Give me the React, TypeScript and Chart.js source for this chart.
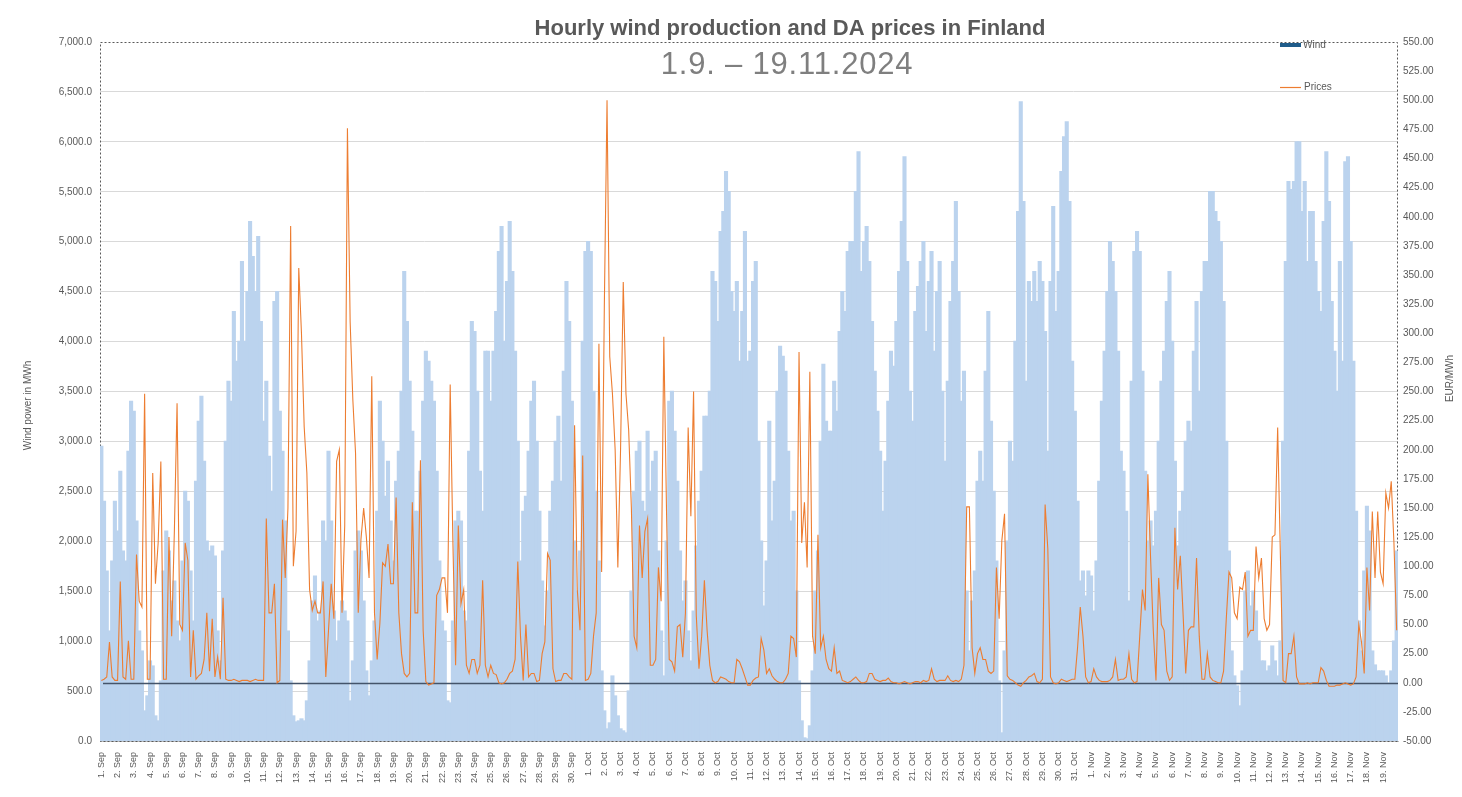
import React, { useEffect, useRef } from 'react';
import { Chart, registerables } from 'chart.js';

Chart.register(...registerables);

// ---------- categories ----------
const months = [
  { name: 'Sep', days: 30 },
  { name: 'Oct', days: 31 },
  { name: 'Nov', days: 19 },
];
const binsPerDay = 6; // 4-hour readings per day
const dayLabels: string[] = months.flatMap((m) =>
  Array.from({ length: m.days }, (_, i) => `${i + 1}. ${m.name}`)
);

// ---------- wind production, MWh (4-hour readings) ----------
const windSep = [
  2950, 2400, 1700, 1100, 1800, 2400,
  2100, 2700, 1900, 1800, 2900, 3400,
  3300, 2200, 1100, 900, 300, 450,
  800, 750, 250, 200, 600, 1700,
  2100, 1900, 1400, 1600, 1200, 1000,
  1800, 2500, 2400, 1700, 1200, 2600,
  3200, 3450, 2800, 2000, 1900, 1950,
  1850, 1100, 800, 1900, 3000, 3600,
  3400, 4300, 3800, 4000, 4800, 4000,
  4500, 5200, 4850, 4500, 5050, 4200,
  3200, 3600, 2850, 2500, 4400, 4500,
  3300, 2900, 2200, 1100, 600, 250,
  190, 200, 220, 200, 400, 800,
  1400, 1650, 1200, 1300, 2200, 2000,
  2900, 2200, 1300, 1000, 1200, 1400,
  1300, 1200, 400, 800, 1900, 2100,
  1900, 1400, 700, 450, 800, 1200,
  2300, 3400, 3000, 2450, 2800, 2200,
  1800, 2600, 2900, 3500, 4700, 4200,
  3600, 3100, 2300, 2300, 2700, 3400,
  3900, 3800, 3600, 3400, 2700, 1800,
  1200, 1100, 400, 380, 1200, 2200,
  2300, 2200, 1300, 1200, 2900, 4200,
  4100, 3500, 2700, 2300, 3900, 3900,
  3400, 3900, 4300, 4900, 5150, 4000,
  4600, 5200, 4700, 3900, 3000, 1800,
  2300, 2450, 2900, 3400, 3600, 3000,
  2300, 1600, 1150, 1500, 2300, 2600,
  3000, 3250, 2600, 3700, 4600, 4200,
  3400, 2000, 1500, 1900, 4000, 4900,
];
const windOct = [
  5000, 4900, 3500, 2500, 1800, 700,
  300, 120, 180, 650, 450, 250,
  120, 100, 80, 500, 1500, 2500,
  2900, 3000, 2400, 2300, 3100, 2500,
  2800, 2900, 1900, 1100, 650, 2000,
  3400, 3500, 3100, 2600, 1900, 1400,
  1600, 1100, 800, 1300, 1950, 2400,
  2700, 3250, 3250, 3500, 4700, 4600,
  4200, 5100, 5300, 5700, 5500, 4500,
  4300, 4600, 3800, 4300, 5100, 3800,
  3900, 4600, 4800, 3000, 2000, 1350,
  1800, 3200, 2200, 2600, 3500, 3950,
  3850, 3700, 2900, 2200, 2300, 1500,
  600, 200, 30, 20, 150, 700,
  1500, 1900, 3000, 3770, 3200, 3100,
  3100, 3600, 3300, 4100, 4500, 4300,
  4900, 5000, 5000, 5500, 5900, 4700,
  5000, 5150, 4800, 4200, 3700, 3300,
  2900, 2300, 2800, 3400, 3900, 3750,
  4200, 4700, 5200, 5850, 4800, 3500,
  3200, 4300, 4550, 4800, 5000, 4100,
  4600, 4900, 3900, 4500, 4800, 3500,
  2800, 3600, 4400, 4800, 5400, 4500,
  3400, 3700, 1500, 900, 1400, 1700,
  2600, 2900, 2600, 3700, 4300, 3200,
  2500, 1800, 600, 80, 900, 2000,
  3000, 2800, 4000, 5300, 6400, 5400,
  3600, 4600, 4400, 4700, 4400, 4800,
  4600, 4100, 2900, 4600, 5350, 4300,
  4700, 5700, 6050, 6200, 5400, 3800,
  3300, 2400, 1600, 1700, 1450, 1700,
];
const windNov = [
  1650, 1300, 1800, 2600, 3400, 3900,
  4500, 5000, 4800, 4500, 3900, 2900,
  2700, 2300, 1400, 3600, 4900, 5100,
  4900, 3700, 2700, 2000, 2200, 1950,
  2300, 3000, 3600, 3900, 4400, 4700,
  4000, 2800, 1950, 2300, 2500, 3000,
  3200, 3100, 3900, 4400, 3500, 4500,
  4800, 4800, 5500, 5500, 5300, 5200,
  5000, 4400, 3000, 1900, 900, 650,
  550, 350, 700, 1500, 1700, 1350,
  1500, 1300, 1000, 800, 800, 700,
  750, 950, 800, 650, 1000, 3000,
  4800, 5600, 5520, 5600, 6000, 6000,
  5300, 5600, 4800, 5300, 5300, 4800,
  4500, 4300, 5200, 5900, 5400, 4400,
  3900, 3500, 4800, 3800, 5800, 5850,
  5000, 3800, 2300, 1200, 900, 1700,
  2350, 2100, 900, 760, 700, 700,
  700, 650, 580, 700, 1000, 1900,
];

// ---------- day-ahead prices, EUR/MWh (4-hour readings) ----------
const priceSep = [
  2, 3, 5, 35, 5, 2,
  2, 87, 5, 3, 36, 3,
  3, 110, 70, 65, 248, 3,
  3, 180, 85, 120, 190, 3,
  3, 125, 40, 130, 240, 50,
  45, 120, 105, 5, 45, 3,
  6, 8, 20, 60, 10, 55,
  5, 22, 3, 73, 3, 2,
  2, 3, 2, 1, 2, 2,
  2, 1, 2, 3, 2, 2,
  2, 141, 60, 60, 85, 0,
  2, 140, 90, 150, 392, 100,
  130, 356, 300, 220, 180, 80,
  62, 70, 60, 60, 87, 5,
  45, 85, 55, 190, 200, 60,
  135, 476, 310, 243, 197, 60,
  123, 150, 125, 90, 263, 60,
  20, 51, 103, 100, 119, 85,
  85, 159, 60, 25, 8, 5,
  8, 155, 60, 60, 191, 45,
  1, -2, -1, 0, 75, 80,
  90, 90, 60, 256, 120, 15,
  135, 68, 80, 15, 8, 20,
  20, 8, 15, 88, 15, 5,
  15, 8, 7, 0, -1, 0,
  3, 8, 10, 20, 104, 40,
  2, 50, 5, 8, 8, 1,
  2, 25, 35, 111, 105, 12,
  1, 2, 2, 8, 8, 5,
  3, 221, 80, 45, 195, 2,
];
const priceOct = [
  3, 8, 40, 60, 291, 95,
  323, 500, 280, 248, 200, 99,
  200, 344, 248, 217, 150, 40,
  30, 135, 90, 130, 141, 15,
  15, 20, 99, 70, 297, 147,
  20, 18, 10, 48, 50, 22,
  60, 219, 143, 250, 58, 12,
  40, 88, 45, 15, 2, 0,
  1, 5, 4, 3, 1, 0,
  0, 20, 18, 12, 5, -2,
  -2, 2, 4, 5, 38, 28,
  8, 12, 6, 3, 1, 0,
  0, 3, 8, 40, 38, 22,
  284, 120, 155, 99, 267, 40,
  25, 127, 30, 40, 20, 12,
  10, 30, 8, 10, 2, 1,
  0, 1, 3, 5, 2, 0,
  0, 1, 8, 8, 3, 2,
  1, 2, 2, 4, 1, 0,
  0, -1, 0, 1, 0, -1,
  0, 1, 1, 0, 2, 1,
  2, 12, 3, 1, 2, 2,
  2, 6, 2, 1, 2, 1,
  3, 15, 151, 151, 30, 8,
  25, 30, 20, 20, 10, 8,
  10, 99, 55, 122, 145, 6,
  3, 2, 0, -2, -3, 0,
  2, 5, 6, 8, 1, 0,
  3, 153, 115, 5, 0, -1,
  0, 3, 2, 1, 2, 3,
  3, 30, 65, 40, 5, 0,
];
const priceNov = [
  1, 12, 5, 2, 1, 1,
  1, 2, 5, 20, 2, 3,
  3, 5, 25, 3, 0, 1,
  40, 80, 62, 179, 107, 45,
  2, 90, 50, 45, 10, 2,
  5, 133, 80, 109, 60, 8,
  45, 48, 48, 107, 40, 3,
  3, 25, 5, 2, 1, 0,
  0, 10, 55, 95, 90, 60,
  55, 82, 80, 95, 40, 45,
  45, 117, 90, 107, 55, 45,
  50, 125, 127, 219, 110, 2,
  0, 25, 25, 40, 5, -1,
  -1, -1, 0, -1, 0, 0,
  0, 13, 10, 2, -3, -3,
  -3, -2, -2, -1, 0, -1,
  -2, -1, 5, 50, 35, 8,
  99, 62, 147, 90, 147, 95,
  85, 163, 150, 173, 120, 45,
];

const wind = [...windSep, ...windOct, ...windNov];
const prices = [...priceSep, ...priceOct, ...priceNov];
const categories = wind.map(
  (_, i) => `${dayLabels[Math.floor(i / binsPerDay)]} ${(i % binsPerDay) * 4}:00`
);

const TITLE = 'Hourly wind production and DA prices in Finland';
const SUBTITLE = '1.9. \u2013 19.11.2024';
const FONT = "'Liberation Sans', Arial, sans-serif";
const TEXT = '#595959';
const WIND_COLOR = '#BBD3EE';
const PRICE_COLOR = '#ED7D31';
const LEGEND_WIND = '#1F5C8A';
const ZERO_LINE = '#44546A';

const decorPlugin = {
  id: 'decor',
  beforeDatasetsDraw(chart: any) {
    const { ctx, chartArea: a } = chart;
    ctx.save();
    ctx.setLineDash([2, 2]);
    ctx.strokeStyle = '#595959';
    ctx.lineWidth = 1;
    ctx.strokeRect(a.left + 0.5, a.top + 0.5, a.right - a.left - 1, a.bottom - a.top);
    ctx.restore();
  },
  afterDatasetDraw(chart: any, args: any) {
    if (args.index !== 0) return;
    const { ctx, chartArea: a } = chart;
    const y = Math.round(chart.scales.y1.getPixelForValue(0)) + 0.5;
    ctx.save();
    ctx.strokeStyle = ZERO_LINE;
    ctx.lineWidth = 1.5;
    ctx.beginPath();
    ctx.moveTo(a.left + 3, y);
    ctx.lineTo(a.right, y);
    ctx.stroke();
    ctx.restore();
  },
  afterDraw(chart: any) {
    const { ctx, chartArea: a } = chart;
    ctx.save();
    // title
    ctx.fillStyle = TEXT;
    ctx.textAlign = 'center';
    ctx.textBaseline = 'middle';
    ctx.font = `bold 22px ${FONT}`;
    ctx.fillText(TITLE, 790, 29);
    // subtitle
    ctx.fillStyle = '#7F7F7F';
    ctx.font = `31px ${FONT}`;
    (ctx as any).letterSpacing = '0.8px';
    ctx.fillText(SUBTITLE, 787, 65);
    (ctx as any).letterSpacing = '0px';
    // legend
    ctx.fillStyle = LEGEND_WIND;
    ctx.fillRect(1280, 43, 21, 4);
    ctx.strokeStyle = PRICE_COLOR;
    ctx.lineWidth = 1.2;
    ctx.beginPath();
    ctx.moveTo(1280, 87.5);
    ctx.lineTo(1301, 87.5);
    ctx.stroke();
    ctx.fillStyle = TEXT;
    ctx.textAlign = 'left';
    ctx.font = `10px ${FONT}`;
    ctx.fillText('Wind', 1303, 45);
    ctx.fillText('Prices', 1304, 87);
    // axis titles
    ctx.textAlign = 'center';
    ctx.save();
    ctx.translate(28, (a.top + a.bottom) / 2 + 14);
    ctx.rotate(-Math.PI / 2);
    ctx.fillText('Wind power in MWh', 0, 0);
    ctx.restore();
    ctx.save();
    ctx.translate(1450, (a.top + a.bottom) / 2 - 13);
    ctx.rotate(-Math.PI / 2);
    ctx.fillText('EUR/MWh', 0, 0);
    ctx.restore();
    ctx.restore();
  },
};

export default function App() {
  const ref = useRef<HTMLCanvasElement | null>(null);

  useEffect(() => {
    if (!ref.current) return;
    Chart.defaults.font.family = FONT;
    const chart = new Chart(ref.current, {
      type: 'bar',
      data: {
        labels: categories,
        datasets: [
          {
            type: 'bar',
            label: 'Wind',
            data: wind,
            backgroundColor: WIND_COLOR,
            borderWidth: 0,
            barPercentage: 1,
            categoryPercentage: 1,
            inflateAmount: 0.7,
            yAxisID: 'y',
            order: 2,
          },
          {
            type: 'line',
            label: 'Prices',
            data: prices,
            borderColor: PRICE_COLOR,
            borderWidth: 1.1,
            pointRadius: 0,
            tension: 0,
            fill: false,
            yAxisID: 'y1',
            order: 1,
          },
        ] as any,
      },
      options: {
        responsive: false,
        animation: false,
        devicePixelRatio: 1,
        layout: { padding: { top: 42, left: 0, right: 0, bottom: 0 } },
        plugins: {
          legend: { display: false },
          title: { display: false },
          tooltip: { enabled: false },
        },
        scales: {
          x: {
            grid: { display: false },
            border: { display: true, color: '#BFBFBF', width: 1 },
            ticks: {
              autoSkip: false,
              minRotation: 90,
              maxRotation: 90,
              padding: 3,
              color: TEXT,
              font: { size: 9, family: FONT },
              callback: (_v: any, i: number) =>
                i % binsPerDay === 0 ? dayLabels[i / binsPerDay] : null,
            },
            afterFit: (s: any) => {
              s.height = 56;
            },
          },
          y: {
            position: 'left',
            min: 0,
            max: 7000,
            border: { display: false },
            grid: {
              drawTicks: false,
              color: (c: any) =>
                c.tick && c.tick.value === 7000 ? 'rgba(0,0,0,0)' : '#D9D9D9',
            },
            ticks: {
              stepSize: 500,
              padding: 8,
              color: TEXT,
              font: { size: 10, family: FONT },
              callback: (v: any) =>
                Number(v).toLocaleString('en-US', {
                  minimumFractionDigits: 1,
                  maximumFractionDigits: 1,
                }),
            },
            afterFit: (s: any) => {
              s.width = 100;
            },
          },
          y1: {
            position: 'right',
            min: -50,
            max: 550,
            border: { display: false },
            grid: { drawOnChartArea: false, drawTicks: false },
            ticks: {
              stepSize: 25,
              padding: 5,
              color: TEXT,
              font: { size: 10, family: FONT },
              callback: (v: any) => Number(v).toFixed(2),
            },
            afterFit: (s: any) => {
              s.width = 64;
            },
          },
        },
      } as any,
      plugins: [decorPlugin],
    });
    return () => chart.destroy();
  }, []);

  return (
    <div style={{ position: 'absolute', left: 0, top: 0, width: 1462, height: 797, background: '#fff' }}>
      <canvas ref={ref} width={1462} height={797} style={{ display: 'block' }} />
    </div>
  );
}
